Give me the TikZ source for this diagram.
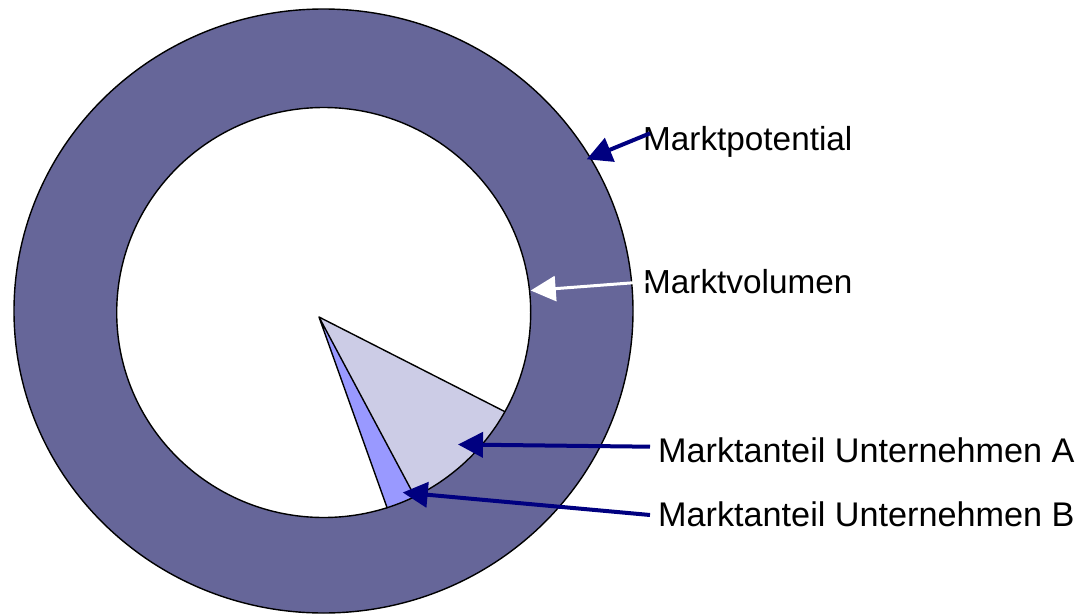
\documentclass[tikz,border=0pt]{standalone}
\usepackage{fontspec}
\setmainfont{Liberation Sans}
\usetikzlibrary{arrows.meta,calc}
\definecolor{ring}{RGB}{102,102,153}
\definecolor{shareA}{RGB}{204,204,230}
\definecolor{shareB}{RGB}{153,153,255}
\definecolor{navy}{RGB}{0,0,128}
\tikzset{
  outline/.style={draw=black,line width=1.4pt},
  lbl/.style={anchor=base west,inner sep=0pt,font=\fontsize{33.3}{40}\selectfont},
  lblwide/.style={lbl,font=\fontsize{34.2}{40}\selectfont},
  pointer/.style={line width=4pt,-{Triangle[length=25pt,width=25pt]}},
}
\begin{document}
\begin{tikzpicture}[x=1pt,y=-1pt]
\useasboundingbox (0,0) rectangle (1077,616);
% rings
\fill[ring] (323.5,311) ellipse [x radius=309.5,y radius=302];
\draw[outline] (323.5,311) ellipse [x radius=309.5,y radius=302];
\fill[white] (323.7,312.5) ellipse [x radius=207,y radius=205];
% wedges
\coordinate (apex) at (319,317);
\coordinate (wa) at (505,411.7);
\coordinate (wab) at (415,497);
\coordinate (wb) at (387.3,508.3);
\begin{scope}
\clip (323.7,312.5) ellipse [x radius=207,y radius=205];
\fill[shareA] (apex) -- ($(apex)!2!(wa)$) -- ($(apex)!2!(wab)$) -- cycle;
\fill[shareB] (apex) -- ($(apex)!2!(wab)$) -- ($(apex)!2!(wb)$) -- cycle;
\end{scope}
\draw[outline,line join=round] (wa) -- (apex) -- (wab) (apex) -- (wb);
\draw[outline] (323.7,312.5) ellipse [x radius=207,y radius=205];
% labels
\node[lbl] (tp) at (643,150) {Marktpotential};
\node[lbl] (tv) at (643,293) {Marktvolumen};
\node[lblwide] (ta) at (658,462) {Marktanteil Unternehmen A};
\node[lblwide] (tb) at (658,526) {Marktanteil Unternehmen B};
% arrows
\coordinate (sp) at (650,133.3);
\coordinate (ep) at (586.7,159.3);
\coordinate (sv) at (650,281.5);
\coordinate (ev) at (530.7,290.5);
\coordinate (sa) at (650,446.7);
\coordinate (ea) at (458,444.5);
\coordinate (sb) at (650,515);
\coordinate (eb) at (402.7,492.5);
\draw[pointer,navy] (sp) -- (ep);
\draw[pointer,white,line width=3pt] (sv) -- (ev);
\draw[pointer,navy] (sa) -- (ea);
\draw[pointer,navy] (sb) -- (eb);
\end{tikzpicture}
\end{document}
